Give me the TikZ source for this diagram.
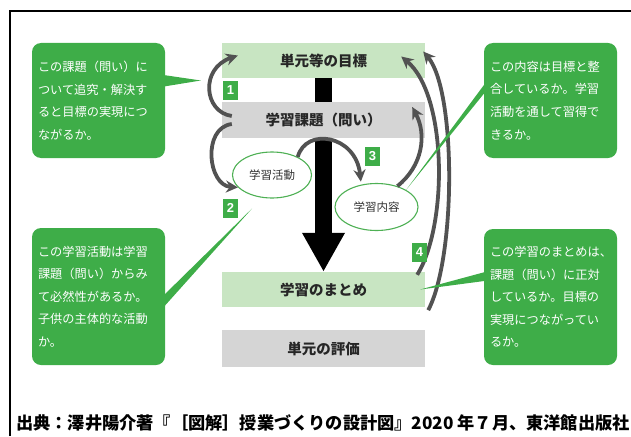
\documentclass[tikz,border=0pt]{standalone}
\usepackage{fontspec}
\newfontfamily\jp{Noto Sans CJK JP}
\setsansfont{Liberation Sans}
\usetikzlibrary{arrows.meta,shapes.geometric,calc}
\definecolor{cgreen}{RGB}{62,173,72}
\definecolor{lgreen}{RGB}{200,229,194}
\definecolor{lgray}{RGB}{213,213,213}
\definecolor{agray}{RGB}{82,82,82}
\definecolor{egreen}{RGB}{78,176,84}
\begin{document}
\begin{tikzpicture}[x=1pt,y=-1pt,
  mainbox/.style={rectangle,minimum width=203pt,minimum height=35pt,inner sep=0pt,
    font=\jp\bfseries\fontsize{14.5}{16}\selectfont,text={black!85}},
  callout/.style={rectangle,rounded corners=9pt,fill=cgreen,text=white,align=left,
    text width=121pt,inner xsep=6pt,inner ysep=0pt,minimum height=115pt,
    font=\jp\fontsize{12.2}{22.6}\selectfont},
  numbox/.style={rectangle,fill=cgreen,text=white,minimum width=15pt,minimum height=19pt,
    inner sep=0pt,font=\sffamily\bfseries\fontsize{13}{13}\selectfont},
  ell/.style={ellipse,draw=egreen,line width=1.1pt,fill=white,inner sep=0pt,
    font=\jp\fontsize{11.5}{12}\selectfont,text={black!80}},
  garrow/.style={draw=agray,line width=3.8pt,-{Stealth[length=12pt,width=12pt]}},
  pointer/.style={fill=cgreen}
]
\useasboundingbox (0,0) rectangle (631,436);
% frame
\draw[line width=1.1pt] (10,436) -- (10,11) -- (631,11);

% main boxes
\node[mainbox,fill=lgreen] (goal) at (323.5,60.5) {単元等の目標};
\node[mainbox,fill=lgray,minimum height=36pt] (task) at (323.5,120) {学習課題（問い）};
\node[mainbox,fill=lgreen] (summary) at (323.5,289.5) {学習のまとめ};
\node[mainbox,fill=lgray,minimum height=37pt] (eval) at (323.5,348.5) {単元の評価};

% central bar and arrow
\fill[black] ($(goal.south)+(-8.5,0)$) rectangle ($(task.north)+(8.5,0)$);
\draw[black,line width=17pt,-{Triangle[length=39pt,width=40pt]}] (task.south) -- (summary.north);

% ellipses
\node[ell,minimum width=79pt,minimum height=46pt] (act) at (272,175) {学習活動};
\node[ell,minimum width=83pt,minimum height=47pt] (content) at (376.5,207) {学習内容};

% grey arrows
\draw[garrow] ($(task.west)+(10,-4)$) .. controls ($(task.west)+(-18,-8)$) and ($(goal.west)+(-22,8)$) .. ($(goal.west)+(16,-5)$);
\draw[garrow] ($(task.west)+(10,4)$) .. controls ($(task.west)+(-20,8)$) and ($(act.200)+(-30,-2)$) .. (act.200);
\draw[garrow] (act.35) .. controls ($(act.35)+(8,-30)$) and ($(content.125)+(-5,-50)$) .. ($(content.125)+(0,-3)$);
\draw[garrow] (content.45) .. controls ($(content.45)+(25,-20)$) and ($(task.east)+(2,15)$) .. ($(task.east)+(-13,-13)$);
\draw[garrow] ($(summary.north east)+(-8,3)$) .. controls ($(summary.north east)+(23,-47)$) and ($(goal.east)+(22,34)$) .. ($(goal.east)+(-24,-4)$);
\draw[garrow] ($(summary.south east)+(3,3)$) .. controls ($(summary.south east)+(31,-50)$) and ($(goal.east)+(31,30)$) .. ($(goal.east)+(-2,-9)$);

% number badges
\node[numbox] (n1) at (230.5,90) {1};
\node[numbox] (n2) at (230.5,208) {2};
\node[numbox] (n3) at (372.5,156) {3};
\node[numbox] (n4) at (419.5,252) {4};

% callouts
\node[callout] (tl) at (98.5,100.5) {この課題（問い）に\\ついて追究・解決す\\ると目標の実現につ\\ながるか。};
\node[callout] (tr) at (550.5,100.5) {この内容は目標と整\\合しているか。学習\\活動を通して習得で\\きるか。};
\node[callout,minimum height=137pt] (bl) at (98.5,296.5) {この学習活動は学習\\課題（問い）からみ\\て必然性があるか。\\子供の主体的な活動\\か。};
\node[callout,minimum height=136pt] (br) at (550.5,297) {この学習のまとめは、\\課題（問い）に正対\\しているか。目標の\\実現につながってい\\るか。};

% pointers
\fill[pointer] ($(tl.north east)+(-3,32)$) -- ($(goal.west)+(-21,20)$) -- ($(tl.north east)+(-3,44)$) -- cycle;
\fill[pointer] ($(tr.north west)+(4,37)$) -- (content.30) -- ($(tr.north west)+(4,46)$) -- cycle;
\fill[pointer] ($(bl.north east)+(-4,70)$) -- ($(act.south)+(-20,10)$) -- ($(bl.north east)+(-4,82)$) -- cycle;
\fill[pointer] ($(br.north west)+(2,43)$) -- ($(summary.east)+(-5,0)$) -- ($(br.north west)+(2,52)$) -- cycle;

% caption
\node[anchor=west,inner sep=0pt,font=\jp\bfseries\fontsize{17.2}{18}\selectfont] (cap) at (16,423) {出典：澤井陽介著『［図解］授業づくりの設計図』2020 年７月、東洋館出版社};
\end{tikzpicture}
\end{document}
